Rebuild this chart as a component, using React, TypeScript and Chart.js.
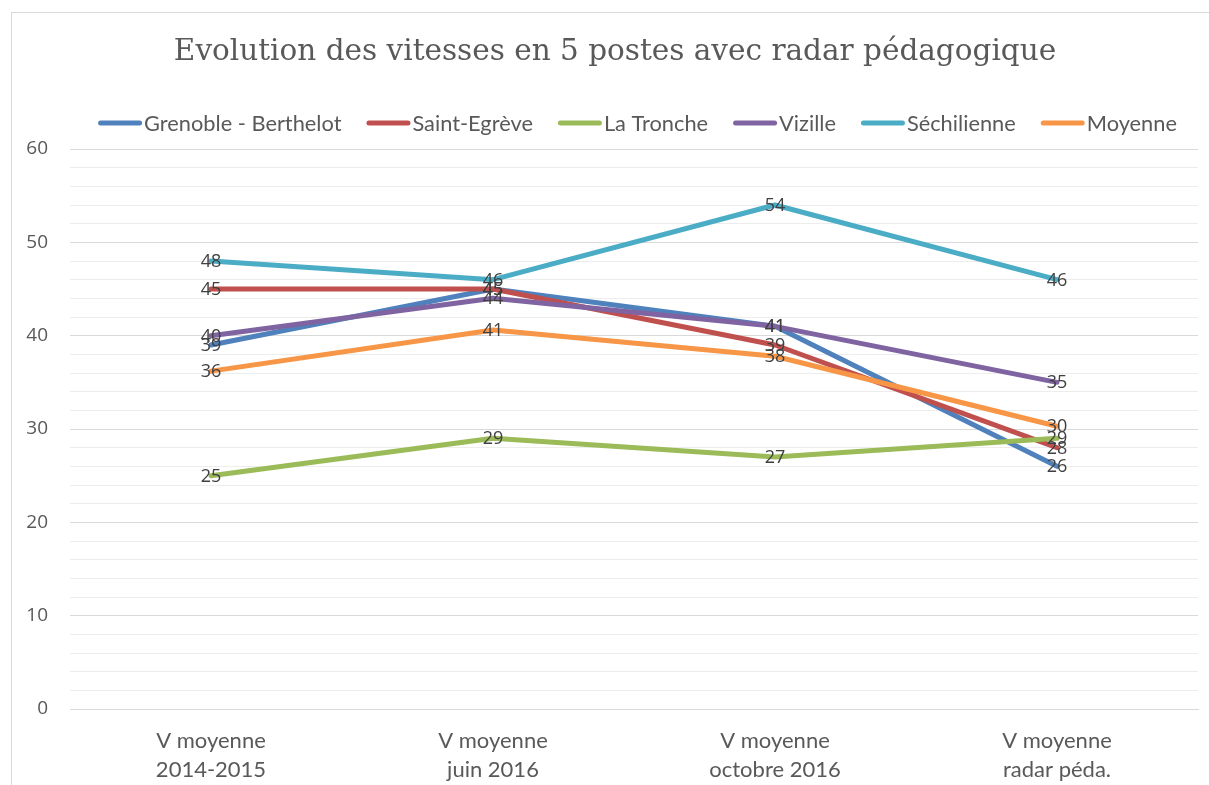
import { useEffect, useRef } from 'react';
import { Chart, registerables } from 'chart.js';

Chart.register(...registerables);

const titleText = 'Evolution des vitesses en 5 postes avec radar pédagogique';
const categories = [
  ['V moyenne', '2014-2015'],
  ['V moyenne', 'juin 2016'],
  ['V moyenne', 'octobre 2016'],
  ['V moyenne', 'radar péda.'],
];
const seriesNames = ['Grenoble - Berthelot', 'Saint-Egrève', 'La Tronche', 'Vizille', 'Séchilienne', 'Moyenne'];
const grenoble = [39, 45, 41, 26];
const saintEgreve = [45, 45, 39, 28];
const laTronche = [25, 29, 27, 29];
const vizille = [40, 44, 41, 35];
const sechilienne = [48, 46, 54, 46];
const moyenne = [36.2, 40.6, 37.8, 30.3];
const seriesColors = ['#4F81BD', '#C0504D', '#9BBB59', '#8064A2', '#4BACC6', '#F79646'];
const yMin = 0;
const yMax = 60;
const yStep = 2;
const yLabelEvery = 10;

const allSeries = [grenoble, saintEgreve, laTronche, vizille, sechilienne, moyenne];

const TITLE_FONT = '29.5px "DejaVu Serif"';
const LEGEND_FONT = '21.8px Lato';
const LABEL_FONT = '18px "Open Sans"';

const decorPlugin = {
  id: 'decor',
  beforeDraw(chart: any) {
    const ctx = chart.ctx;
    ctx.save();
    ctx.fillStyle = '#ffffff';
    ctx.fillRect(0, 0, chart.width, chart.height);
    ctx.strokeStyle = '#d9d9d9';
    ctx.lineWidth = 1;
    ctx.strokeRect(11.5, 12.5, chart.width + 20, chart.height + 20);
    ctx.restore();
  },
  afterDatasetsDraw(chart: any) {
    const ctx = chart.ctx;
    ctx.save();
    ctx.font = LABEL_FONT;
    ctx.fillStyle = '#404040';
    ctx.textAlign = 'center';
    ctx.textBaseline = 'middle';
    chart.data.datasets.forEach((ds: any, i: number) => {
      const meta = chart.getDatasetMeta(i);
      meta.data.forEach((pt: any, j: number) => {
        ctx.fillText(String(Math.round(ds.data[j])), pt.x, pt.y + 1);
      });
    });
    ctx.restore();
  },
  afterDraw(chart: any) {
    const ctx = chart.ctx;
    ctx.save();
    // title
    ctx.font = TITLE_FONT;
    ctx.fillStyle = '#595959';
    ctx.textAlign = 'center';
    ctx.textBaseline = 'middle';
    ctx.fillText(titleText, 615, 52);
    // legend
    ctx.font = LEGEND_FONT;
    ctx.textAlign = 'left';
    const lineW = 44;
    const gapLT = 2;
    const gapItem = 25;
    const items = chart.data.datasets.map((ds: any) => ({
      text: ds.label,
      color: ds.borderColor,
      w: lineW + gapLT + ctx.measureText(ds.label).width,
    }));
    const total = items.reduce((s: number, it: any) => s + it.w, 0) + gapItem * (items.length - 1);
    let x = 637.5 - total / 2;
    const y = 123;
    items.forEach((it: any) => {
      ctx.strokeStyle = it.color;
      ctx.lineWidth = 5;
      ctx.lineCap = 'round';
      ctx.beginPath();
      ctx.moveTo(x + 2.5, y);
      ctx.lineTo(x + lineW - 2.5, y);
      ctx.stroke();
      ctx.fillStyle = '#595959';
      ctx.fillText(it.text, x + lineW + gapLT, y + 1);
      x += it.w + gapItem;
    });
    ctx.restore();
  },
};

export default function App() {
  const ref = useRef<HTMLCanvasElement>(null);
  useEffect(() => {
    document.body.style.margin = '0';
    const canvas = ref.current!;
    const chart = new Chart(canvas, {
      type: 'line',
      data: {
        labels: categories,
        datasets: allSeries.map((d, i) => ({
          label: seriesNames[i],
          data: d,
          borderColor: seriesColors[i],
          backgroundColor: seriesColors[i],
          borderWidth: 5,
          borderCapStyle: 'round',
          borderJoinStyle: 'round',
          pointRadius: 0,
          pointHoverRadius: 0,
          tension: 0,
          fill: false,
          order: allSeries.length - i,
        })),
      },
      options: {
        responsive: false,
        animation: false,
        devicePixelRatio: 1,
        layout: { padding: { top: 149, right: 11, bottom: 0, left: 0 } },
        plugins: {
          legend: { display: false },
          title: { display: false },
          tooltip: { enabled: false },
        },
        scales: {
          x: {
            type: 'category',
            offset: true,
            grid: { display: false, drawTicks: false },
            border: { display: true, color: '#d9d9d9', width: 1 },
            ticks: {
              color: '#595959',
              font: { family: 'Lato', size: 22, lineHeight: 1.32 },
              padding: 17,
              maxRotation: 0,
              autoSkip: false,
            },
            afterFit(scale: any) {
              scale.height = 76;
            },
          },
          y: {
            min: yMin,
            max: yMax,
            grid: {
              drawTicks: false,
              color: (c: any) => (c.tick && c.tick.value % yLabelEvery === 0 ? '#d9d9d9' : '#ededed'),
              lineWidth: 1,
            },
            border: { display: false },
            ticks: {
              stepSize: yStep,
              autoSkip: false,
              color: '#595959',
              font: { family: 'Open Sans', size: 19 },
              padding: 22,
              callback: (v: any) => (Number(v) % yLabelEvery === 0 ? String(v) : ''),
            },
            afterFit(scale: any) {
              scale.width = 70;
            },
          },
        },
      },
      plugins: [decorPlugin],
    } as any);
    return () => chart.destroy();
  }, []);
  return <canvas ref={ref} width={1209} height={785} style={{ display: 'block' }} />;
}
